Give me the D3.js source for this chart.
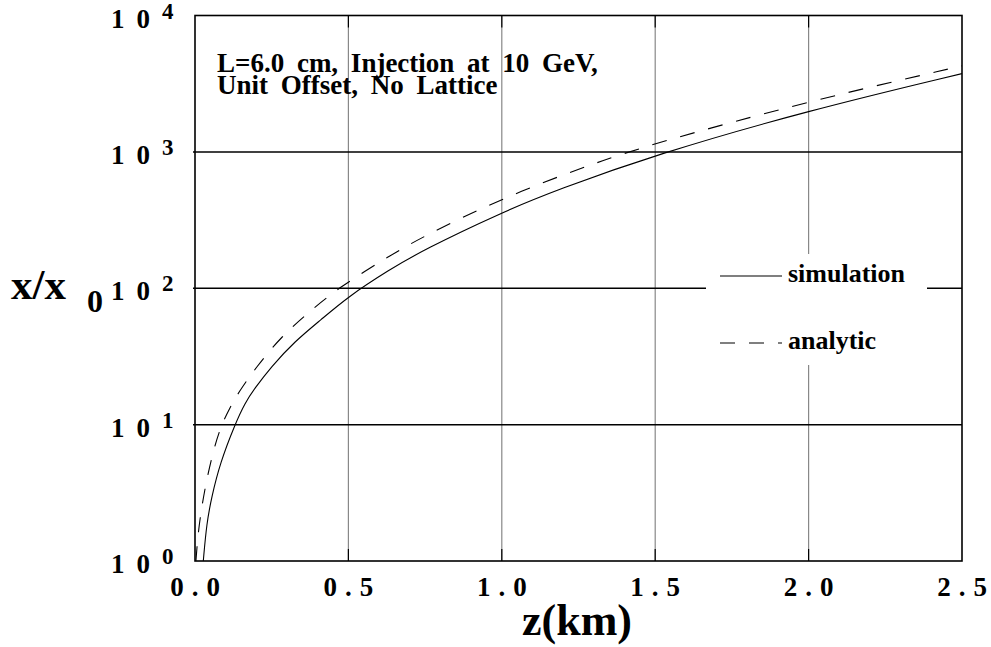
<!DOCTYPE html>
<html>
<head>
<meta charset="utf-8">
<script src="https://cdn.jsdelivr.net/npm/d3@7"></script>
<style>
  body { margin: 0; background: #fff; }
  text { font-family: "Liberation Serif", "Times New Roman", serif; font-weight: bold; fill: #000; }
</style>
</head>
<body>
<div id="main_view"></div>
<script>
// chart values
var xTicks = [0.0, 0.5, 1.0, 1.5, 2.0, 2.5];
var yTicks = [1, 10, 100, 1000, 10000];
var yExponents = ["0", "1", "2", "3", "4"];

// simulation (solid)
var simZ = [0.027, 0.038, 0.054, 0.082, 0.13, 0.162, 0.194, 0.248, 0.324, 0.41, 0.5, 0.632, 0.744, 1.0, 1.179, 1.5, 2.0, 2.5];
var simV = [1.0, 1.89, 2.93, 5.25, 10, 14.3, 18.4, 26.5, 40.6, 58.6, 87.1, 136, 191, 360, 525, 955, 2014, 3750];

// analytic (dashed)
var anaZ = [0.003, 0.008, 0.016, 0.033, 0.06, 0.0864, 0.113, 0.14, 0.2, 0.281, 0.3725, 0.47, 0.636, 0.744, 1.0, 1.287, 1.5, 2.0, 2.5];
var anaV = [1.0, 1.41, 2.04, 3.51, 6.53, 10, 13.2, 17.0, 26.5, 44.2, 67.3, 101.6, 174, 240, 457, 807, 1160, 2355, 4270];

var legendNames = ["simulation", "analytic"];
var legendDash = [null, "15,14"];

var W = 991, H = 647;
var plot = {left: 195, right: 962, top: 15.5, bottom: 561};

var xScale = d3.scaleLinear().domain([0, 2.5]).range([plot.left, plot.right]);
var yScale = d3.scaleLog().domain([1, 10000]).range([plot.bottom, plot.top]);

var svg = d3.select("#main_view").append("svg")
    .attr("width", W)
    .attr("height", H);

svg.append("defs").append("clipPath").attr("id", "clip")
  .append("rect")
    .attr("x", plot.left).attr("y", plot.top)
    .attr("width", plot.right - plot.left).attr("height", plot.bottom - plot.top);

// vertical grid (gray)
svg.selectAll(".vgrid")
    .data(xTicks.slice(1, -1))
  .enter().append("line")
    .attr("class", "vgrid")
    .attr("x1", function(d) { return xScale(d); })
    .attr("x2", function(d) { return xScale(d); })
    .attr("y1", plot.top).attr("y2", plot.bottom)
    .attr("stroke", "#888").attr("stroke-width", 1.2);

// small ticks at top and bottom of the vertical grid
[plot.top, plot.bottom - 12].forEach(function(y0) {
  svg.selectAll(null)
      .data(xTicks.slice(1, -1))
    .enter().append("line")
      .attr("x1", function(d) { return xScale(d); })
      .attr("x2", function(d) { return xScale(d); })
      .attr("y1", y0).attr("y2", y0 + 12)
      .attr("stroke", "#000").attr("stroke-width", 1.2);
});

// horizontal grid (black)
svg.selectAll(".hgrid")
    .data(yTicks.slice(1, -1))
  .enter().append("line")
    .attr("class", "hgrid")
    .attr("x1", plot.left - 2).attr("x2", plot.right)
    .attr("y1", function(d) { return yScale(d); })
    .attr("y2", function(d) { return yScale(d); })
    .attr("stroke", "#000").attr("stroke-width", 1.5);

// curves
var line = d3.line()
    .x(function(d) { return xScale(d[0]); })
    .y(function(d) { return yScale(d[1]); })
    .curve(d3.curveBasis);

var g = svg.append("g").attr("clip-path", "url(#clip)");

g.append("path")
    .datum(d3.zip(simZ, simV))
    .attr("fill", "none")
    .attr("stroke", "#000")
    .attr("stroke-width", 1.1)
    .attr("d", line);

g.append("path")
    .datum(d3.zip(anaZ, anaV))
    .attr("fill", "none")
    .attr("stroke", "#000")
    .attr("stroke-width", 1.1)
    .attr("stroke-dasharray", "15,14")
    .attr("d", line);

// legend box (white, hides the grid)
var leg = svg.append("g");
leg.append("rect")
    .attr("x", 706).attr("y", 254)
    .attr("width", 221).attr("height", 111)
    .attr("fill", "#fff");

leg.selectAll(".legline")
    .data(legendNames)
  .enter().append("line")
    .attr("x1", 720).attr("x2", 782)
    .attr("y1", function(d, i) { return 276 + i * 67; })
    .attr("y2", function(d, i) { return 276 + i * 67; })
    .attr("stroke", "#000").attr("stroke-width", 1.1)
    .attr("stroke-dasharray", function(d, i) { return legendDash[i]; });

leg.selectAll(".legtext")
    .data(legendNames)
  .enter().append("text")
    .attr("x", 788)
    .attr("y", function(d, i) { return 282 + i * 67; })
    .style("font-size", "26px")
    .text(function(d) { return d; });

// frame
svg.append("rect")
    .attr("x", plot.left).attr("y", plot.top)
    .attr("width", plot.right - plot.left).attr("height", plot.bottom - plot.top)
    .attr("fill", "none")
    .attr("stroke", "#000").attr("stroke-width", 1.6);

// x tick labels (spaced out, no spacing after the last digit)
var xlab = svg.selectAll(".xlab")
    .data(xTicks)
  .enter().append("text")
    .attr("x", function(d) { return xScale(d); })
    .attr("y", 596)
    .style("font-size", "27px")
    .style("text-anchor", "middle");
xlab.append("tspan")
    .style("letter-spacing", "8px")
    .text(function(d) { return d3.format(".1f")(d).slice(0, -1); });
xlab.append("tspan")
    .text(function(d) { return d3.format(".1f")(d).slice(-1); });

// y tick labels 10^n
var ylab = svg.selectAll(".ylab")
    .data(yTicks)
  .enter().append("text")
    .attr("x", 111)
    .attr("y", function(d) { return yScale(d) + 12; })
    .style("font-size", "27px")
    .style("letter-spacing", "12px");
ylab.append("tspan").text("10");
ylab.append("tspan")
    .attr("dy", -9)
    .style("font-size", "23px")
    .style("letter-spacing", "0px")
    .text(function(d, i) { return yExponents[i]; });

// axis titles
svg.append("text")
    .attr("x", 577)
    .attr("y", 635)
    .style("font-size", "44px")
    .style("text-anchor", "middle")
    .text("z(km)");

var yt = svg.append("text")
    .attr("x", 11)
    .attr("y", 299)
    .style("font-size", "43px");
yt.append("tspan").text("x/x");
yt.append("tspan")
    .attr("x", 87)
    .attr("y", 312)
    .style("font-size", "32px")
    .text("0");

// annotation
svg.append("text")
    .attr("x", 217).attr("y", 72)
    .style("font-size", "27px")
    .style("word-spacing", "6px")
    .text("L=6.0 cm, Injection at 10 GeV,");
svg.append("text")
    .attr("x", 217).attr("y", 94)
    .style("font-size", "27px")
    .style("word-spacing", "6px")
    .text("Unit Offset, No Lattice");
</script>
</body>
</html>
